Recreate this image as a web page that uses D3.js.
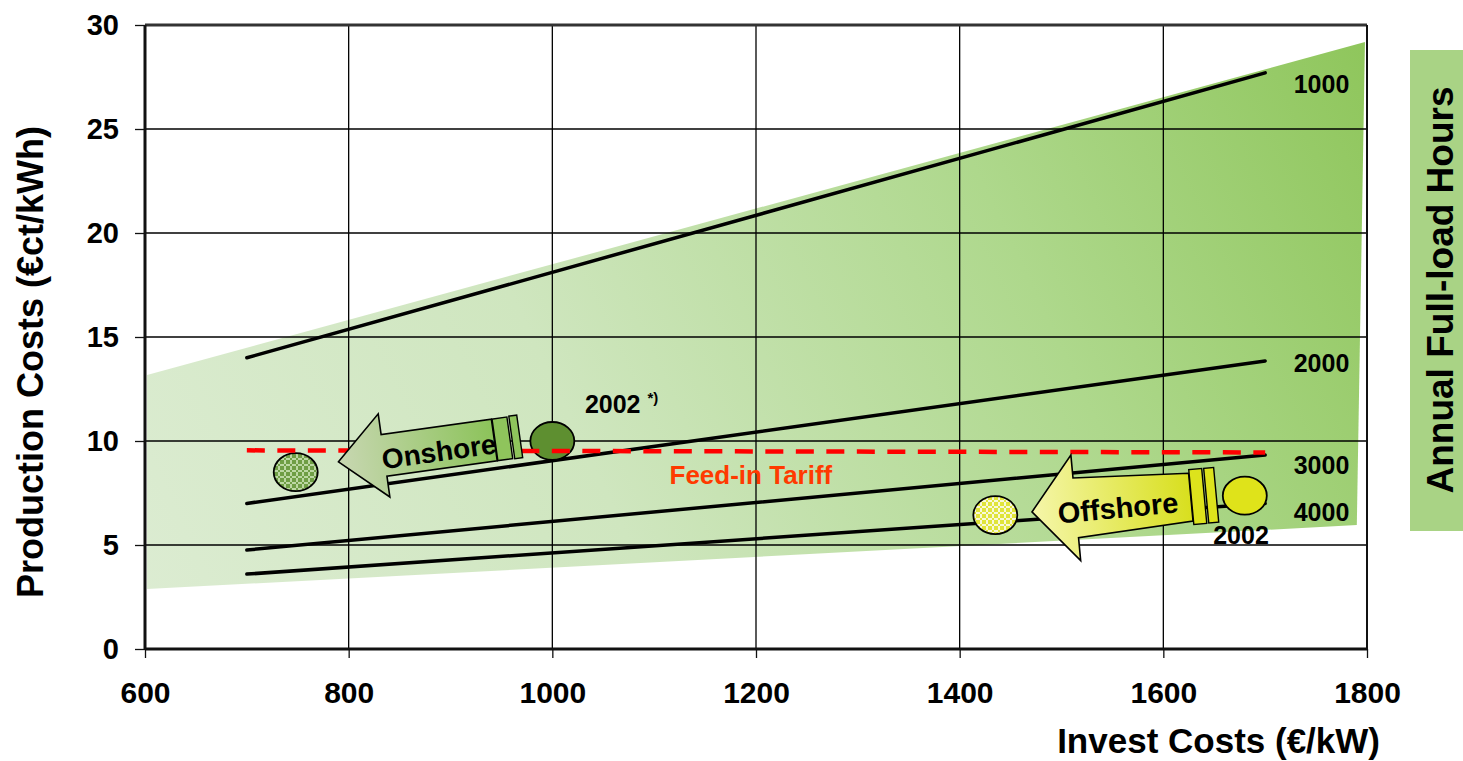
<!DOCTYPE html>
<html>
<head>
<meta charset="utf-8">
<script src="https://cdn.jsdelivr.net/npm/d3@7"></script>
<style>
  html, body { margin: 0; padding: 0; background: #fff; }
  svg { display: block; font-family: "Liberation Sans", Arial, sans-serif; font-weight: bold; }
</style>
</head>
<body>
<svg id="chart" width="1463" height="761"></svg>
<script>
// Axis ticks
const investTicks = [600, 800, 1000, 1200, 1400, 1600, 1800];
const costTicks = [0, 5, 10, 15, 20, 25, 30];

// Production cost lines for given annual full-load hours (€ct/kWh at 700 and 1700 €/kW)
const fullLoadHours = ["1000", "2000", "3000", "4000"];
const lineInvest = [700, 1700];
const costAt1000h = [14.0, 27.7];
const costAt2000h = [7.0, 13.85];
const costAt3000h = [4.76, 9.33];
const costAt4000h = [3.6, 7.0];

// Shaded cost range (corners, clockwise from top-left)
const rangeInvest = [602, 1798, 1790, 602];
const rangeCost = [13.17, 29.18, 5.96, 2.88];

// Feed-in tariff
const tariffInvest = [700, 1700];
const tariffCost = [9.55, 9.45];

// Wind sites: current (2002) and expected positions
const siteNames = ["Onshore 2002", "Onshore future", "Offshore 2002", "Offshore future"];
const siteInvest = [1000, 748, 1680, 1435];
const siteCost = [10.0, 8.5, 7.37, 6.44];

// Trend arrows (tip and tail in data units)
const arrowNames = ["Onshore", "Offshore"];
const arrowTipInvest = [790, 1471];
const arrowTipCost = [9.0, 6.59];
const arrowTailInvest = [943, 1627];
const arrowTailCost = [10.05, 7.3];

const svg = d3.select("#chart");
const x = d3.scaleLinear().domain([600, 1800]).range([145, 1367]);
const y = d3.scaleLinear().domain([0, 30]).range([649, 25]);

const defs = svg.append("defs");

// Range gradient
const rg = defs.append("linearGradient").attr("id", "rangeGrad")
  .attr("gradientUnits", "userSpaceOnUse")
  .attr("x1", x(602)).attr("y1", y(1)).attr("x2", x(1798)).attr("y2", y(29));
rg.append("stop").attr("offset", 0).attr("stop-color", "#dcecd2");
rg.append("stop").attr("offset", 0.35).attr("stop-color", "#cfe6bf");
rg.append("stop").attr("offset", 0.7).attr("stop-color", "#aed88c");
rg.append("stop").attr("offset", 1).attr("stop-color", "#8fc65c");

// Arrow gradients
function arrowGrad(id, c0, c1) {
  const g = defs.append("linearGradient").attr("id", id)
    .attr("x1", 0).attr("y1", 0).attr("x2", 1).attr("y2", 0);
  g.append("stop").attr("offset", 0).attr("stop-color", c0);
  g.append("stop").attr("offset", 1).attr("stop-color", c1);
}
arrowGrad("onGrad", "#c8d7b2", "#8cc35a");
arrowGrad("offGrad", "#f5f6aa", "#d8df1e");

// Lattice patterns for future sites
function lattice(id, base, mark) {
  const p = defs.append("pattern").attr("id", id)
    .attr("patternUnits", "userSpaceOnUse").attr("width", 6).attr("height", 6);
  p.append("rect").attr("width", 6).attr("height", 6).attr("fill", base);
  p.append("rect").attr("x", 2).attr("y", 0).attr("width", 2).attr("height", 6).attr("fill", mark);
  p.append("rect").attr("x", 0).attr("y", 2).attr("width", 6).attr("height", 2).attr("fill", mark);
  p.append("rect").attr("x", 2).attr("y", 2).attr("width", 2).attr("height", 2).attr("fill", base);
}
lattice("onPat", "#6f9e45", "#bcd8a3");
lattice("offPat", "#e0e43a", "#f8f8d8");

// Shaded range
svg.append("polygon")
  .attr("points", rangeInvest.map((v, i) => [x(v), y(rangeCost[i])].join(",")).join(" "))
  .attr("fill", "url(#rangeGrad)");

// Gridlines
const grid = svg.append("g").attr("stroke", "#000").attr("stroke-width", 1.3);
grid.selectAll(".vg").data(investTicks.slice(1, -1)).join("line")
  .attr("x1", d => x(d)).attr("x2", d => x(d)).attr("y1", y(30)).attr("y2", y(0));
grid.selectAll(".hg").data(costTicks.slice(1, -1)).join("line")
  .attr("x1", x(600)).attr("x2", x(1800)).attr("y1", d => y(d)).attr("y2", d => y(d));

// Frame
svg.append("line").attr("x1", x(600)).attr("x2", x(1800)).attr("y1", y(30)).attr("y2", y(30))
  .attr("stroke", "#333").attr("stroke-width", 3);
svg.append("line").attr("x1", x(1800)).attr("x2", x(1800)).attr("y1", y(30)).attr("y2", y(0))
  .attr("stroke", "#111").attr("stroke-width", 2);

// Axes
const tickFont = 29;
const yAxis = svg.append("g").attr("transform", `translate(${x(600)},0)`)
  .call(d3.axisLeft(y).tickValues(costTicks).tickSize(10).tickPadding(16).tickFormat(d3.format("d")));
yAxis.select(".domain").attr("stroke", "#111").attr("stroke-width", 3);
yAxis.selectAll(".tick line").attr("stroke", "#111").attr("stroke-width", 1.3);
yAxis.selectAll(".tick text").attr("font-size", tickFont).attr("font-weight", "bold")
  .attr("font-family", "'Liberation Sans', Arial, sans-serif").attr("fill", "#000");

const xAxis = svg.append("g").attr("transform", `translate(0,${y(0)})`)
  .call(d3.axisBottom(x).tickValues(investTicks).tickSize(9).tickPadding(24).tickFormat(d3.format("d")));
xAxis.select(".domain").attr("stroke", "#111").attr("stroke-width", 3);
xAxis.selectAll(".tick line").attr("stroke", "#111").attr("stroke-width", 1.3);
xAxis.selectAll(".tick text").attr("font-size", tickFont + 1).attr("font-weight", "bold")
  .attr("font-family", "'Liberation Sans', Arial, sans-serif").attr("fill", "#000");
// plain axis lines without end caps
yAxis.select(".domain").attr("d", `M0,${y(30)}V${y(0)}`);
xAxis.select(".domain").attr("d", `M${x(600)},0H${x(1800)}`);

// Full-load-hour lines
const costSeries = [costAt1000h, costAt2000h, costAt3000h, costAt4000h];
const line = d3.line().x(d => x(d[0])).y(d => y(d[1]));
svg.append("g").selectAll("path").data(costSeries).join("path")
  .attr("d", s => line(lineInvest.map((v, i) => [v, s[i]])))
  .attr("fill", "none").attr("stroke", "#000").attr("stroke-width", 3.5).attr("stroke-linecap", "round");

// Line labels
const labelShift = [11, 2, 10, 9];
svg.append("g").selectAll("text").data(fullLoadHours).join("text")
  .attr("x", x(1728))
  .attr("y", (d, i) => y(costSeries[i][1]) + labelShift[i])
  .attr("dominant-baseline", "central")
  .attr("font-size", 25).text(d => d);

// Site markers
const siteFill = ["#5e8f30", "url(#onPat)", "#dfe31a", "url(#offPat)"];
svg.append("g").selectAll("ellipse").data(siteNames).join("ellipse")
  .attr("cx", (d, i) => x(siteInvest[i])).attr("cy", (d, i) => y(siteCost[i]))
  .attr("rx", 22).attr("ry", 19)
  .attr("fill", (d, i) => siteFill[i]).attr("stroke", "#000").attr("stroke-width", 1.8);

// Feed-in tariff line
svg.append("path")
  .attr("d", line(tariffInvest.map((v, i) => [v, tariffCost[i]])))
  .attr("fill", "none").attr("stroke", "#ff0000").attr("stroke-width", 4.5)
  .attr("stroke-dasharray", "18,12.5");

// Trend arrows
const arrowStyle = [
  { grad: "url(#onGrad)", bar: "#8fc45c", headLen: 46, headHalf: 42, bodyHead: 21, bodyTail: 21,
    bars: [[158, 173, 21], [175, 183, 21.5]], textAt: [101, 4], font: 28 },
  { grad: "url(#offGrad)", bar: "#dde31c", headLen: 44, headHalf: 53, bodyHead: 30, bodyTail: 24,
    bars: [[160, 173, 27.5], [175, 185, 27.5]], textAt: [86, 4], font: 29 }
];
const arrows = svg.append("g");
arrowNames.forEach((name, i) => {
  const st = arrowStyle[i];
  const tx = x(arrowTipInvest[i]), ty = y(arrowTipCost[i]);
  const ex = x(arrowTailInvest[i]), ey = y(arrowTailCost[i]);
  const L = Math.hypot(ex - tx, ey - ty);
  const ang = Math.atan2(ey - ty, ex - tx) * 180 / Math.PI;
  const g = arrows.append("g").attr("transform", `translate(${tx},${ty}) rotate(${ang})`);
  const pts = [
    [0, 0], [st.headLen, -st.headHalf], [st.headLen, -st.bodyHead], [L, -st.bodyTail],
    [L, st.bodyTail], [st.headLen, st.bodyHead], [st.headLen, st.headHalf]
  ];
  g.append("polygon").attr("points", pts.map(p => p.join(",")).join(" "))
    .attr("fill", st.grad).attr("stroke", "#000").attr("stroke-width", 1.6).attr("stroke-linejoin", "miter");
  st.bars.forEach(b => {
    g.append("rect").attr("x", b[0]).attr("y", -b[2]).attr("width", b[1] - b[0]).attr("height", 2 * b[2])
      .attr("fill", st.bar).attr("stroke", "#000").attr("stroke-width", 1.4);
  });
  g.append("text").attr("x", st.textAt[0]).attr("y", st.textAt[1])
    .attr("text-anchor", "middle").attr("dominant-baseline", "central")
    .attr("font-size", st.font).attr("fill", "#000").text(name);
});

svg.append("text").attr("x", x(1195)).attr("y", 484)
  .attr("text-anchor", "middle").attr("font-size", 26).attr("fill", "#ff3a00")
  .text("Feed-in Tariff");

// Year annotations
const yr = svg.append("text").attr("x", x(1032)).attr("y", 413).attr("font-size", 25);
yr.append("tspan").text("2002 ");
yr.append("tspan").attr("font-size", 15).attr("dy", -10).text("*)");
svg.append("text").attr("x", x(1649)).attr("y", 544).attr("font-size", 25).text("2002");

// Axis titles
svg.append("text").attr("transform", "translate(43,362) rotate(-90)")
  .attr("text-anchor", "middle").attr("font-size", 36).text("Production Costs (€ct/kWh)");
svg.append("text").attr("x", 1380).attr("y", 753)
  .attr("text-anchor", "end").attr("font-size", 35).text("Invest Costs (€/kW)");

// Full-load hours legend bar
svg.append("rect").attr("x", 1410).attr("y", 50).attr("width", 60).attr("height", 481).attr("fill", "#a9d385");
svg.append("text").attr("transform", "translate(1453,290) rotate(-90)")
  .attr("text-anchor", "middle").attr("font-size", 37).text("Annual Full-load Hours");
</script>
</body>
</html>
